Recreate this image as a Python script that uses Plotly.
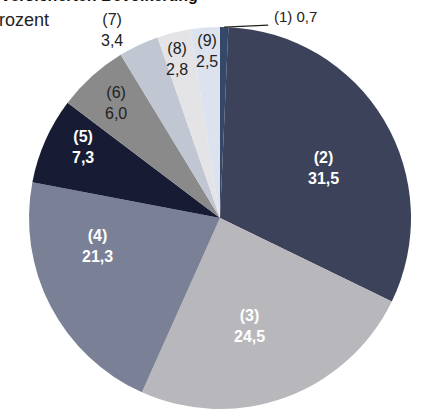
import math
import plotly.graph_objects as go

# ---- data ----
categories = ["(1)", "(2)", "(3)", "(4)", "(5)", "(6)", "(7)", "(8)", "(9)"]
values = [0.7, 31.5, 24.5, 21.3, 7.3, 6.0, 3.4, 2.8, 2.5]
value_labels = ["0,7", "31,5", "24,5", "21,3", "7,3", "6,0", "3,4", "2,8", "2,5"]
colors = ["#34486a", "#3c4259", "#b8b8bc", "#7a8095", "#171b34",
          "#8a8a8a", "#c1c6d3", "#e4e4e7", "#dde2ef"]
label_colors = ["#222222", "#ffffff", "#ffffff", "#ffffff", "#ffffff",
                "#222222", "#222222", "#222222", "#222222"]
label_bold = [False, True, True, True, True, False, False, False, False]
label_radius = [1.0, 0.56, 0.60, 0.66, 0.81, 0.81, 1.10, 0.93, 0.92]
label_nudge = [(0, 0), (12, 5), (-10, 0), (-11, -30), (4, -8),
               (0, 0), (-19, 2), (0, 13), (1, 8)]

W, H = 421, 409
CX, CY = 220, 218          # pie centre in pixels (from top)
R = 191                    # pie radius in pixels
FONT = "Liberation Sans, Arial"

fig = go.Figure()
fig.add_trace(go.Pie(
    labels=categories, values=values, sort=False, direction="clockwise",
    rotation=0, marker=dict(colors=colors, line=dict(width=0)),
    textinfo="none", hoverinfo="label+value", showlegend=False,
    domain=dict(x=[(CX - R) / W, (CX + R) / W], y=[0, 2 * R / H]),
))

def to_paper(px, py):
    return px / W, (H - py) / H

total = sum(values)
cum = 0.0
annotations = []
shapes = []
for i, v in enumerate(values):
    mid = (cum + v / 2) / total * 2 * math.pi
    cum += v
    if i == 0:
        # outside label with leader line
        ex, ey = CX + R * math.sin(mid), CY - R * math.cos(mid)
        x0, y0 = to_paper(ex, ey)
        x1, y1 = to_paper(ex + 44, ey - 2)
        shapes.append(dict(type="line", xref="paper", yref="paper",
                           x0=x0, y0=y0, x1=x1, y1=y1,
                           line=dict(color="#222222", width=1.2)))
        tx, ty = to_paper(ex + 48, ey - 11)
        annotations.append(dict(x=tx, y=ty, xref="paper", yref="paper",
                                text=f"{categories[i]} {value_labels[i]}",
                                showarrow=False, xanchor="left", yanchor="middle",
                                font=dict(size=15, color=label_colors[i], family=FONT)))
        continue
    rr = label_radius[i] * R
    px = CX + rr * math.sin(mid) + label_nudge[i][0]
    py = CY - rr * math.cos(mid) + label_nudge[i][1]
    tx, ty = to_paper(px, py)
    txt = f"{categories[i]}<br>{value_labels[i]}"
    if label_bold[i]:
        txt = f"<b>{txt}</b>"
    annotations.append(dict(x=tx, y=ty, xref="paper", yref="paper",
                            text=txt, showarrow=False,
                            xanchor="center", yanchor="middle",
                            font=dict(size=16, color=label_colors[i], family=FONT)))

# partially cropped title lines
annotations.append(dict(x=200 / W, y=(H - 6) / H, xref="paper", yref="paper",
                        text="<b>der versicherten Bevölkerung</b>", showarrow=False,
                        xanchor="right", yanchor="bottom",
                        font=dict(size=16, color="#111111", family=FONT)))
annotations.append(dict(x=51 / W, y=(H - 20) / H, xref="paper", yref="paper",
                        text="in Prozent", showarrow=False,
                        xanchor="right", yanchor="middle",
                        font=dict(size=18, color="#222222", family=FONT)))

fig.update_layout(
    width=W, height=H, margin=dict(l=0, r=0, t=0, b=0),
    paper_bgcolor="white", plot_bgcolor="white",
    annotations=annotations, shapes=shapes,
)
fig.write_html("out.html")
